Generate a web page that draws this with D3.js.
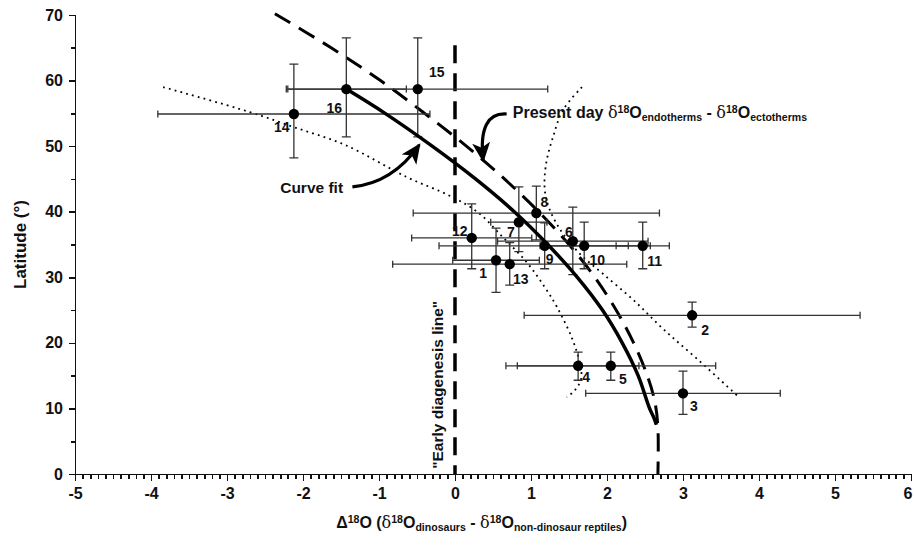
<!DOCTYPE html>
<html>
<head>
<meta charset="utf-8">
<script src="https://cdn.jsdelivr.net/npm/d3@7"></script>
<style>
  body { margin: 0; background: #fff; }
  svg text { font-family: "Liberation Sans", Arial, sans-serif; font-weight: bold; fill: #111; }
</style>
</head>
<body>
<svg id="chart"></svg>
<script>
// site data
var siteIds   = [1, 2, 3, 4, 5, 6, 7, 8, 9, 10, 11, 12, 13, 14, 15, 16];
var siteDelta = [0.54, 3.12, 3.00, 1.62, 2.05, 1.55, 0.84, 1.07, 1.18, 1.70, 2.47, 0.22, 0.72, -2.12, -0.49, -1.43];
var siteLat   = [32.6, 24.2, 12.3, 16.5, 16.5, 35.5, 38.4, 39.8, 34.8, 34.8, 34.8, 36.0, 32.0, 54.9, 58.7, 58.7];
var deltaErr  = [0.57, 2.21, 1.28, 0.80, 1.38, 0.99, 0.37, 1.62, 1.39, 0.58, 0.35, 0.79, 1.54, 1.79, 1.71, 0.79];
var latLow    = [27.7, 22.4, 9.1, 14.3, 14.3, 30.4, 33.9, 35.7, 31.3, 31.3, 31.3, 31.3, 28.8, 48.2, 51.4, 51.4];
var latHigh   = [37.5, 26.2, 15.7, 18.6, 18.6, 40.7, 43.8, 43.9, 38.3, 38.4, 38.4, 41.2, 35.3, 62.5, 66.5, 66.5];

// curve fit
var fitDelta = [-1.43, -0.92, -0.30, 0.27, 0.78, 1.22, 1.61, 1.94, 2.20, 2.41, 2.56, 2.62, 2.65];
var fitLat   = [58.7, 55, 50, 45, 40, 35, 30, 25, 20, 15, 10, 8.5, 7.5];

// present day endotherm - ectotherm line
var presDelta = [-2.37, -1.63, -0.98, -0.40, 0.15, 0.65, 1.10, 1.50, 1.84, 2.12, 2.35, 2.53, 2.63, 2.67, 2.67];
var presLat   = [70.2, 65, 60, 55, 50, 45, 40, 35, 30, 25, 20, 15, 11, 7, 0];

// confidence bands (dotted)
var bandLeftDelta = [-3.84, -2.70, -2.12, -1.45, -0.62, -0.10, 0.29, 0.63, 0.95, 1.18, 1.34, 1.55, 1.65, 1.66, 1.58, 1.47];
var bandLeftLat   = [59.0, 55.2, 52.9, 50.2, 45.2, 42.6, 40.0, 36.1, 32.2, 28.5, 25.5, 20.4, 16.5, 14.5, 12.8, 11.7];
var bandRightDelta = [1.67, 1.42, 1.29, 1.20, 1.18, 1.24, 1.40, 1.65, 1.95, 2.35, 2.75, 3.20, 3.71];
var bandRightLat   = [59.0, 55.5, 51.4, 47.4, 43.5, 40.5, 37.0, 33.5, 30.5, 26.5, 22.0, 17.4, 12.0];

var xTicks = [-5, -4, -3, -2, -1, 0, 1, 2, 3, 4, 5, 6];
var yTicks = [0, 10, 20, 30, 40, 50, 60, 70];

var svgWidth = 914, svgHeight = 545;

var svg = d3.select('#chart')
  .attr('width', svgWidth)
  .attr('height', svgHeight);

var x = d3.scaleLinear().domain([-5, 6]).range([75, 911]);
var y = d3.scaleLinear().domain([0, 70]).range([474, 15]);

// arrow head
svg.append('defs').append('marker')
  .attr('id', 'head')
  .attr('markerUnits', 'userSpaceOnUse')
  .attr('markerWidth', 22).attr('markerHeight', 22)
  .attr('refX', 18).attr('refY', 9)
  .attr('orient', 'auto')
  .append('path')
  .attr('d', 'M0,0 L20,9 L0,18 L5,9 Z')
  .attr('fill', '#000');

// axes
var xAxisMinor = d3.axisBottom(x).ticks(110).tickSize(5).tickFormat('');
svg.append('g').attr('class', 'axis')
  .attr('transform', 'translate(0,' + y(0) + ')')
  .call(xAxisMinor)
  .call(function(g) { g.select('.domain').remove(); });

var xAxis = d3.axisBottom(x).tickValues(xTicks).tickSize(7).tickPadding(7)
  .tickFormat(function(d) { return d; });
var gx = svg.append('g').attr('class', 'axis')
  .attr('transform', 'translate(0,' + y(0) + ')')
  .call(xAxis);
gx.selectAll('.tick text')
  .filter(function(d) { return d === 6; })
  .attr('text-anchor', 'end')
  .attr('dx', 1);

var yAxisMinor = d3.axisLeft(y).ticks(14).tickSize(4).tickFormat('');
svg.append('g').attr('class', 'axis')
  .attr('transform', 'translate(' + x(-5) + ',0)')
  .call(yAxisMinor);

var yAxis = d3.axisLeft(y).tickValues(yTicks).tickSize(6).tickPadding(6)
  .tickFormat(function(d) { return d; });
svg.append('g').attr('class', 'axis')
  .attr('transform', 'translate(' + x(-5) + ',0)')
  .call(yAxis);

svg.selectAll('.axis path, .axis line')
  .attr('stroke', '#111')
  .attr('stroke-width', 1.6)
  .attr('shape-rendering', 'crispEdges');
svg.selectAll('.axis text')
  .attr('font-size', 16)
  .attr('fill', '#111');

// axis titles
svg.append('text')
  .attr('transform', 'translate(26,' + y(35) + ') rotate(-90)')
  .attr('text-anchor', 'middle')
  .attr('font-size', 17)
  .text('Latitude (°)');

var xt = svg.append('text')
  .attr('x', x(0.35))
  .attr('y', 528)
  .attr('text-anchor', 'middle')
  .attr('font-size', 16);
function rich(t, parts) {
  parts.forEach(function(p) {
    var s = t.append('tspan').text(p[0]);
    if (p[1] === 'sup') s.attr('font-size', '66%').attr('baseline-shift', '45%');
    if (p[1] === 'sub') s.attr('font-size', '66%').attr('baseline-shift', '-25%');
    if (p[1] === 'd') s.style('font-family', '"DejaVu Serif", serif').style('font-weight', 'normal');
  });
}
rich(xt, [['Δ'], ['18', 'sup'], ['O ('], ['δ', 'd'], ['18', 'sup'], ['O'], ['dinosaurs', 'sub'],
  [' - '], ['δ', 'd'], ['18', 'sup'], ['O'], ['non-dinosaur reptiles', 'sub'], [')']]);

// early diagenesis line
svg.append('line')
  .attr('x1', x(0)).attr('x2', x(0))
  .attr('y1', y(65.4)).attr('y2', y(0))
  .attr('stroke', '#000')
  .attr('stroke-width', 3.5)
  .attr('stroke-dasharray', '18,10');

svg.append('text')
  .attr('transform', 'translate(' + (x(-0.24) + 6) + ',' + y(13.6) + ') rotate(-90)')
  .attr('text-anchor', 'middle')
  .attr('font-size', 15.5)
  .text('"Early diagenesis line"');

// curves
var line = d3.line()
  .x(function(d) { return x(d[0]); })
  .y(function(d) { return y(d[1]); })
  .curve(d3.curveCatmullRom);

svg.append('path')
  .datum(d3.zip(bandLeftDelta, bandLeftLat))
  .attr('d', line)
  .attr('fill', 'none').attr('stroke', '#000')
  .attr('stroke-width', 1.8).attr('stroke-dasharray', '1.8,4.2');

svg.append('path')
  .datum(d3.zip(bandRightDelta, bandRightLat))
  .attr('d', line)
  .attr('fill', 'none').attr('stroke', '#000')
  .attr('stroke-width', 1.8).attr('stroke-dasharray', '1.8,4.2');

svg.append('path')
  .datum(d3.zip(presDelta, presLat))
  .attr('d', line)
  .attr('fill', 'none').attr('stroke', '#000')
  .attr('stroke-width', 3).attr('stroke-dasharray', '18,10');

// error bars
var sites = siteIds.map(function(id, i) {
  return { id: id, d: siteDelta[i], lat: siteLat[i], e: deltaErr[i], lo: latLow[i], hi: latHigh[i] };
});

var bars = svg.append('g')
  .attr('stroke', '#333')
  .attr('stroke-width', 1.3);

bars.selectAll('.hbar').data(sites).enter().append('path')
  .attr('fill', 'none')
  .attr('d', function(d) {
    var x0 = x(d.d - d.e), x1 = x(d.d + d.e), yy = y(d.lat);
    return 'M' + x0 + ',' + yy + 'H' + x1 +
      'M' + x0 + ',' + (yy - 3.5) + 'V' + (yy + 3.5) +
      'M' + x1 + ',' + (yy - 3.5) + 'V' + (yy + 3.5);
  });

bars.selectAll('.vbar').data(sites).enter().append('path')
  .attr('fill', 'none')
  .attr('d', function(d) {
    var xx = x(d.d), y0 = y(d.lo), y1 = y(d.hi);
    return 'M' + xx + ',' + y0 + 'V' + y1 +
      'M' + (xx - 4.5) + ',' + y0 + 'H' + (xx + 4.5) +
      'M' + (xx - 4.5) + ',' + y1 + 'H' + (xx + 4.5);
  });

// curve fit (drawn over error bars)
svg.append('path')
  .datum(d3.zip(fitDelta, fitLat))
  .attr('d', line)
  .attr('fill', 'none').attr('stroke', '#000')
  .attr('stroke-width', 3.5);

// points
svg.selectAll('circle').data(sites).enter().append('circle')
  .attr('cx', function(d) { return x(d.d); })
  .attr('cy', function(d) { return y(d.lat); })
  .attr('r', 5.2)
  .attr('fill', '#000');

// point labels, offsets in px
var labelDx = [-13, 13, 11, 8, 12, -4, -8, 8, 5, 13, 12, -12, 11, -12, 19, -12];
var labelDy = [13, 15, 13, 11, 13, -9, 10, -11, 13, 14, 15, -7, 15, 13, -17, 19];
svg.selectAll('.lab').data(sites).enter().append('text')
  .attr('x', function(d, i) { return x(d.d) + labelDx[i]; })
  .attr('y', function(d, i) { return y(d.lat) + labelDy[i]; })
  .attr('dy', '0.35em')
  .attr('text-anchor', 'middle')
  .attr('font-size', 14)
  .attr('fill', '#222')
  .text(function(d) { return d.id; });

// annotations
svg.append('text')
  .attr('x', x(-2.30)).attr('y', y(42.9))
  .attr('font-size', 15.5)
  .text('Curve fit');

svg.append('path')
  .attr('d', 'M' + x(-1.35) + ',' + y(43.8) +
    'Q' + x(-0.82) + ',' + y(44.4) + ' ' + x(-0.47) + ',' + y(50.2))
  .attr('fill', 'none').attr('stroke', '#000').attr('stroke-width', 3.2)
  .attr('marker-end', 'url(#head)');

var pt = svg.append('text')
  .attr('x', x(0.76)).attr('y', y(54.3))
  .attr('font-size', 16);
rich(pt, [['Present day '], ['δ', 'd'], ['18', 'sup'], ['O'], ['endotherms', 'sub'],
  [' - '], ['δ', 'd'], ['18', 'sup'], ['O'], ['ectotherms', 'sub']]);

svg.append('path')
  .attr('d', 'M' + x(0.68) + ',' + y(54.9) +
    'Q' + x(0.30) + ',' + y(55.2) + ' ' + x(0.37) + ',' + y(47.8))
  .attr('fill', 'none').attr('stroke', '#000').attr('stroke-width', 3.2)
  .attr('marker-end', 'url(#head)');
</script>
</body>
</html>
